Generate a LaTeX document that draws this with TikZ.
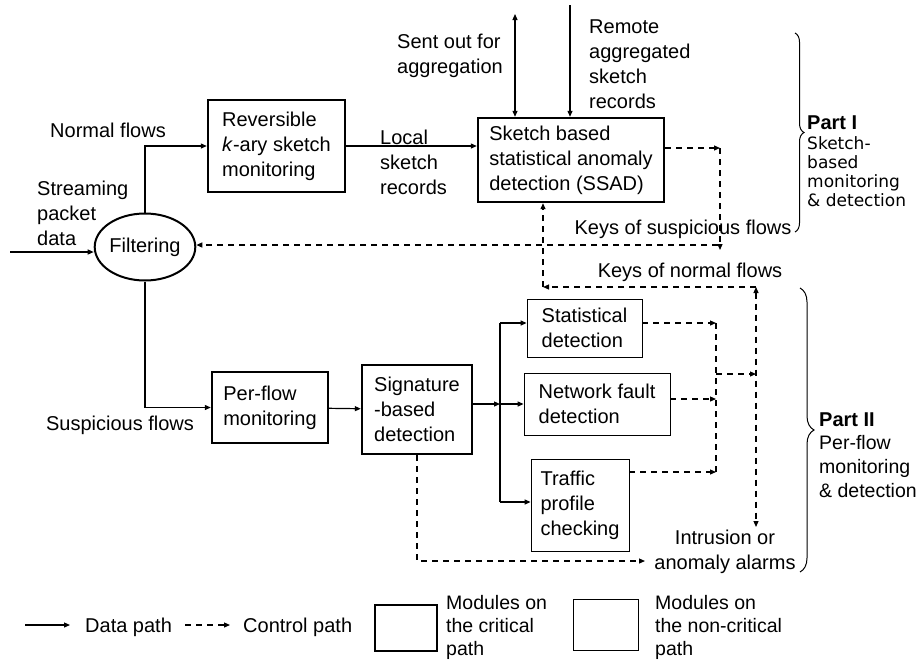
\documentclass[tikz,border=0pt]{standalone}
\usepackage{fontspec}
\setmainfont{Liberation Sans}
\newfontfamily\partfont{DejaVu Sans}
\usetikzlibrary{arrows.meta,shapes.geometric,decorations.pathreplacing}

\begin{document}
\begin{tikzpicture}[
    x=1pt, y=-1pt,
    font=\fontsize{20}{25}\selectfont,
    >={Triangle[length=6pt,width=5pt]},
    block/.style={rectangle, draw, line width=2.4pt, align=left, inner sep=0pt},
    thinblock/.style={rectangle, draw, line width=0.8pt, align=left, inner sep=0pt},
    txt/.style={inner sep=0pt, align=left},
    line/.style={draw, line width=1.2pt, ->},
    ctrl/.style={line, dash pattern=on 6pt off 5pt},
    brace/.style={decorate, decoration={brace, amplitude=#1}, line width=1pt}
]
    \useasboundingbox (0,0) rectangle (920,662);

    \node [ellipse, draw, line width=2pt, minimum width=95pt, minimum height=67pt, inner sep=0pt] (filt) at (145,247) {Filtering};

    \node [block, minimum width=137pt, minimum height=92pt] (rev) at (276.5,146) {Reversible\\\textit{k}-ary sketch\\monitoring};
    \node [block, minimum width=186pt, minimum height=84pt] (ssad) at (571,160) {Sketch based\\statistical anomaly\\detection (SSAD)};
    \node [block, minimum width=116pt, minimum height=71pt] (pf) at (270,407.5) {Per-flow\\monitoring};
    \node [block, minimum width=110pt, minimum height=89pt] (sig) at (417,409.5) {Signature\\-based\\detection};

    \node [thinblock, minimum width=115pt, minimum height=58pt] (stat) at (584.5,328) {Statistical\\detection};
    \node [thinblock, minimum width=146pt, minimum height=62pt] (netf) at (597,404) {Network fault\\detection};
    \node [thinblock, minimum width=98pt, minimum height=92pt] (traf) at (580,505) {Traffic\\profile\\checking};

    \node [txt] (normal) at (108,130) {Normal flows};
    \node [txt, anchor=west] (stream) at (37,213) {Streaming\\packet\\data};
    \node [txt, anchor=west] (local) at (380,162) {Local\\sketch\\records};
    \node [txt, anchor=west] (sent) at (397,56) {Sent out for\\aggregation};
    \node [txt, anchor=west] (remote) at (589,64) {Remote\\aggregated\\sketch\\records};
    \node [txt] (keysus) at (683,229) {Keys of suspicious flows};
    \node [txt] (keynorm) at (690,272) {Keys of normal flows};
    \node [txt] (susp) at (120,425) {Suspicious flows};
    \node [txt, align=center] (alarms) at (725,552) {Intrusion or\\anomaly alarms};

    \node [txt, anchor=west] (part1) at (807,123) {\textbf{Part I}};
    \node [txt, anchor=north west, font=\partfont\fontsize{17}{19}\selectfont] (part1txt) at (807,136) {Sketch-\\based\\monitoring\\\& detection};
    \node [txt, anchor=west] (part2) at (819,420) {\textbf{Part II}};
    \node [txt, anchor=north west, font=\fontsize{19.5}{24}\selectfont] (part2txt) at (819,435) {Per-flow\\monitoring\\\& detection};

    \draw [brace=9pt] (795,33) -- (795,232);
    \draw [brace=14pt] (800,288) -- (800,572);

    \coordinate (in) at (10,252);
    \draw [line] (in) -- (in -| filt.west);
    \draw [line] (filt.north) |- (rev);
    \draw [line] (filt.south) |- (pf);
    \draw [line] (rev) -- (ssad.west |- rev);

    \coordinate (sendout) at (515,14);
    \coordinate (remin) at (570,5);
    \draw [line, <->] (ssad.north -| sendout) -- (sendout);
    \draw [line] (remin) -- (remin |- ssad.north);

    \coordinate (c1) at (720,148);
    \coordinate (c2) at (720,250);
    \coordinate (c3) at (718,245);
    \draw [ctrl] (ssad.east |- c1) -- (c1);
    \draw [ctrl] (c1) -- (c2);
    \draw [ctrl] (c3) -- (c3 -| filt.east);

    \coordinate (c4) at (756,287);
    \coordinate (c5) at (543,287);
    \coordinate (c6) at (756,527);
    \draw [ctrl] (c4) -- (c5);
    \draw [ctrl] (c5) -- (c5 |- ssad.south);
    \draw [ctrl, <->] (c4) -- (c6);

    \draw [line] (pf) -- (sig);

    \coordinate (bus) at (500,404);
    \coordinate (b1) at (500,323);
    \coordinate (b3) at (500,502);
    \draw [line] (sig.east |- bus) -- (bus);
    \draw [line, -] (b1) -- (b3);
    \draw [line] (b1) -- (b1 -| stat.west);
    \draw [line] (bus) -- (bus -| netf.west);
    \draw [line] (b3) -- (b3 -| traf.west);

    \coordinate (s1) at (716,323);
    \coordinate (s2) at (716,399);
    \coordinate (s3) at (716,472);
    \coordinate (m) at (716,374);
    \draw [ctrl] (stat.east |- s1) -- (s1);
    \draw [ctrl] (netf.east |- s2) -- (s2);
    \draw [ctrl] (traf.east |- s3) -- (s3);
    \draw [ctrl, -] (s1) -- (s3);
    \draw [ctrl] (m) -- (m -| c6);

    \coordinate (d2) at (645,561);
    \draw [ctrl] (sig.south) |- (d2);

    \coordinate (lg1) at (25,625);
    \coordinate (lg2) at (70,625);
    \draw [line] (lg1) -- (lg2);
    \node [txt, anchor=west] (lgdata) at (85,627) {Data path};
    \coordinate (lg3) at (185,625);
    \coordinate (lg4) at (230,625);
    \draw [ctrl] (lg3) -- (lg4);
    \node [txt, anchor=west] (lgctrl) at (243,627) {Control path};
    \node [block, minimum width=62pt, minimum height=46pt] (lgcrit) at (406,628) {};
    \node [txt, anchor=west, font=\fontsize{19.5}{23}\selectfont] (lgcrittxt) at (446,627) {Modules on\\the critical\\path};
    \node [thinblock, minimum width=65pt, minimum height=51pt] (lgnon) at (605.5,624.5) {};
    \node [txt, anchor=west, font=\fontsize{19.5}{23}\selectfont] (lgnontxt) at (655,627) {Modules on\\the non-critical\\path};
\end{tikzpicture}
\end{document}
